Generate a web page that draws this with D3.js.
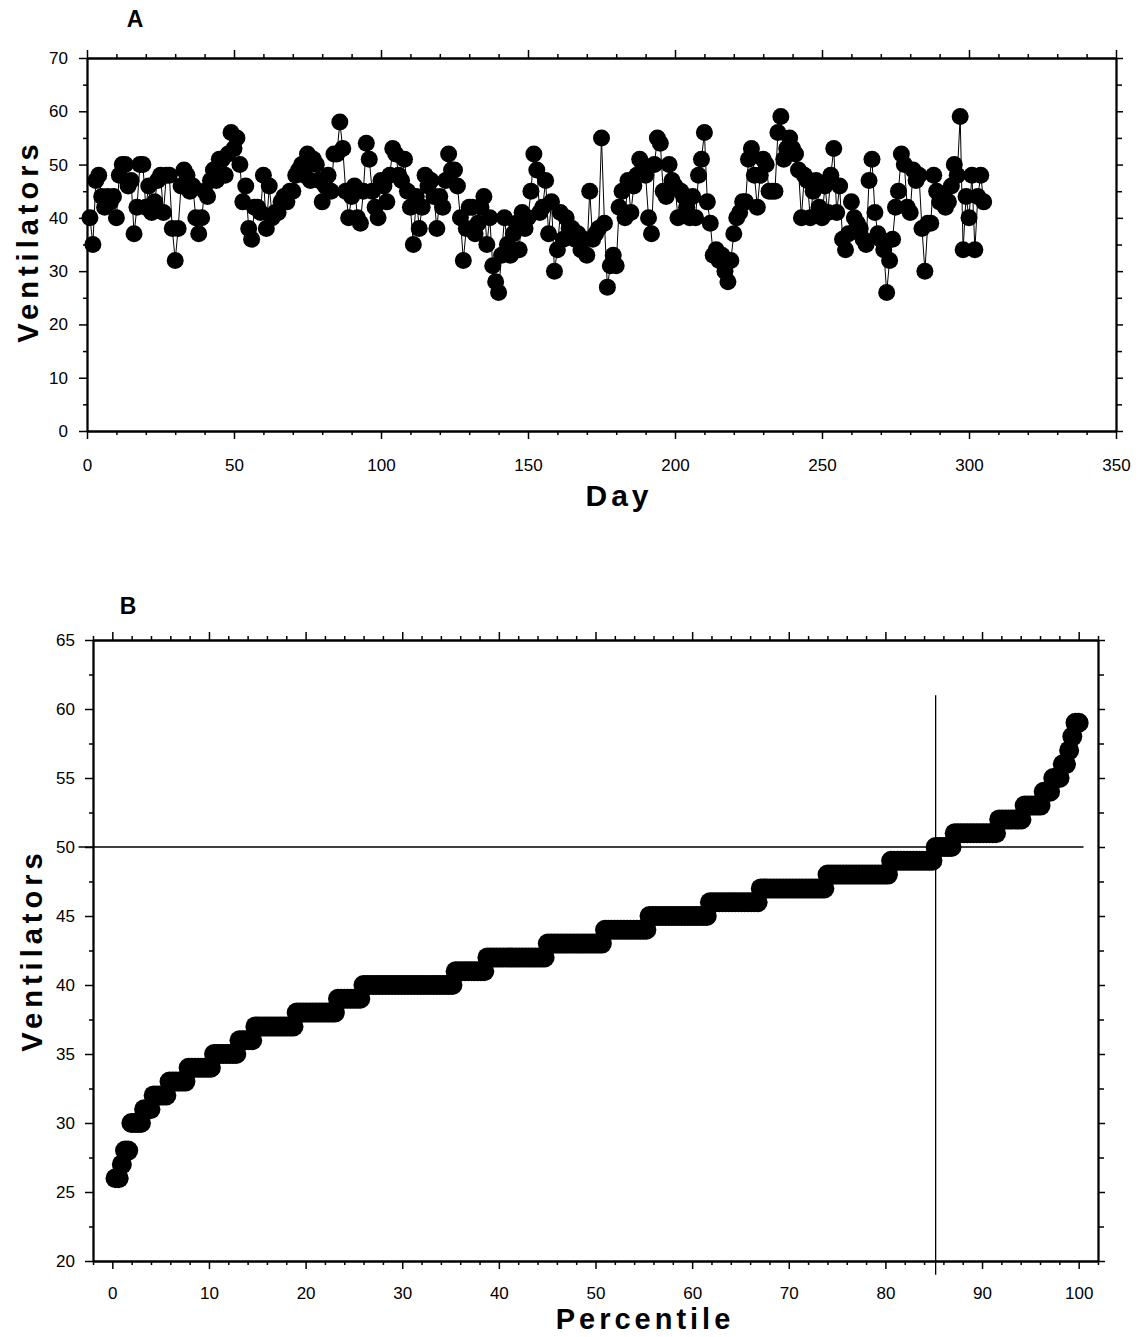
<!DOCTYPE html>
<html>
<head>
<meta charset="utf-8">
<script src="https://cdn.jsdelivr.net/npm/d3@7"></script>
<style>
body { margin: 0; background: #fff; }
text { font-family: "Liberation Sans", Arial, sans-serif; fill: #000; }
</style>
</head>
<body>
<svg id="chart" width="1138" height="1337"></svg>
<script>
// Panel A - daily ventilator census, days 1..305
const dayValues = [
    40, 35, 47, 48, 44, 42, 44, 43, 44, 40,
    48, 50, 50, 46, 47, 37, 42, 50, 50, 42,
    46, 41, 43, 47, 48, 41, 48, 48, 38, 32,
    38, 46, 49, 48, 45, 46, 40, 37, 40, 45,
    44, 47, 49, 47, 51, 51, 48, 52, 56, 53,
    55, 50, 43, 46, 38, 36, 42, 42, 41, 48,
    38, 46, 40, 41, 41, 43, 44, 43, 45, 45,
    48, 49, 50, 48, 52, 47, 51, 50, 47, 43,
    46, 48, 45, 52, 52, 58, 53, 45, 40, 44,
    46, 40, 39, 45, 54, 51, 45, 42, 40, 47,
    46, 43, 48, 53, 52, 48, 47, 51, 45, 42,
    35, 44, 38, 42, 48, 46, 47, 44, 38, 44,
    42, 47, 52, 49, 49, 46, 40, 32, 38, 42,
    42, 37, 39, 42, 44, 35, 40, 31, 28, 26,
    33, 40, 35, 33, 37, 39, 34, 41, 38, 40,
    45, 52, 49, 41, 42, 47, 37, 43, 30, 34,
    41, 36, 40, 38, 38, 36, 37, 34, 36, 33,
    45, 36, 37, 38, 55, 39, 27, 31, 33, 31,
    42, 45, 40, 47, 41, 46, 48, 51, 50, 48,
    40, 37, 50, 55, 54, 45, 44, 50, 47, 46,
    40, 45, 44, 42, 40, 44, 40, 48, 51, 56,
    43, 39, 33, 34, 32, 33, 30, 28, 32, 37,
    40, 41, 43, 43, 51, 53, 48, 42, 48, 51,
    50, 45, 45, 45, 56, 59, 51, 53, 55, 53,
    52, 49, 40, 48, 47, 40, 45, 47, 42, 40,
    46, 41, 48, 53, 41, 46, 36, 34, 37, 43,
    40, 39, 38, 36, 35, 47, 51, 41, 37, 36,
    34, 26, 32, 36, 42, 45, 52, 50, 42, 41,
    49, 47, 48, 38, 30, 39, 39, 48, 45, 43,
    44, 42, 43, 46, 50, 48, 59, 34, 44, 40,
    48, 34, 44, 48, 43
];
const dayTicks = [0, 50, 100, 150, 200, 250, 300, 350];
const ventATicks = [0, 10, 20, 30, 40, 50, 60, 70];

// Panel B - ventilator levels and number of days at each level
const pctLevels = [26, 27, 28, 30, 31, 32, 33, 34, 35, 36, 37, 38, 39, 40, 41, 42, 43,
    44, 45, 46, 47, 48, 49, 50, 51, 52, 53, 54, 55, 56, 57, 58, 59];
const pctCounts = [2, 1, 2, 4, 3, 5, 6, 8, 8, 5, 13, 13, 8, 29, 10, 19, 18,
    14, 19, 16, 21, 20, 14, 6, 14, 8, 6, 3, 3, 2, 1, 1, 2];
const pctTicks = [0, 10, 20, 30, 40, 50, 60, 70, 80, 90, 100];
const ventBTicks = [20, 25, 30, 35, 40, 45, 50, 55, 60, 65];
const refLevel = 50;       // horizontal reference line
const refPercentile = 85.2; // vertical reference line

const svg = d3.select('#chart');

// axes helper: draws one axis, optional labels
function axis(g, fn, scale, ticks, size, labels, transform, pad, fs) {
    const a = g.append('g')
        .attr('transform', transform)
        .call(fn(scale).tickValues(ticks).tickSize(size).tickSizeOuter(0)
            .tickPadding(pad).tickFormat(labels ? d3.format('d') : ''));
    a.select('.domain').attr('stroke', '#000').attr('stroke-width', 1.8);
    a.selectAll('.tick line').attr('stroke', '#000').attr('stroke-width', 1.5);
    a.selectAll('text').style('font-size', fs + 'px').attr('fill', '#000');
    return a;
}

function frame(g, x, y, o) {
    const [x0, x1] = x.range();
    const [y0, y1] = y.range();
    // bottom
    axis(g, d3.axisBottom, x, o.xMajor, 8, true, `translate(0,${y0})`, o.xPad, 17);
    axis(g, d3.axisBottom, x, o.xMinor, 4, false, `translate(0,${y0})`, 0, 0);
    // top
    axis(g, d3.axisTop, x, o.xMajor, 8, false, `translate(0,${y1})`, 0, 0);
    axis(g, d3.axisTop, x, o.xMinor, 4, false, `translate(0,${y1})`, 0, 0);
    // left
    axis(g, d3.axisLeft, y, o.yMajor, 8, true, `translate(${x0},0)`, o.yPad, 17);
    axis(g, d3.axisLeft, y, o.yMinor, 4, false, `translate(${x0},0)`, 0, 0);
    // right
    axis(g, d3.axisRight, y, o.yMajor, 7, false, `translate(${x1},0)`, 0, 0);
    axis(g, d3.axisRight, y, o.yMinor, 6, false, `translate(${x1},0)`, 0, 0);
}

// ---------- Panel A ----------
const xA = d3.scaleLinear().domain([0, 350]).range([87, 1116]);
const yA = d3.scaleLinear().domain([0, 70]).range([431, 58]);
const gA = svg.append('g');

frame(gA, xA, yA, {
    xMajor: dayTicks,
    xMinor: d3.range(0, 351, 10).filter(d => d % 50 !== 0),
    yMajor: ventATicks,
    yMinor: d3.range(5, 70, 10),
    xPad: 20, yPad: 11
});

const seriesA = dayValues.map((v, i) => ({ day: i + 1, v: v }));

gA.append('path')
    .datum(seriesA)
    .attr('fill', 'none')
    .attr('stroke', '#000')
    .attr('stroke-width', 1)
    .attr('d', d3.line().x(d => xA(d.day)).y(d => yA(d.v)));

gA.append('g')
    .selectAll('circle')
    .data(seriesA)
    .enter()
    .append('circle')
    .attr('cx', d => xA(d.day))
    .attr('cy', d => yA(d.v))
    .attr('r', 8.5)
    .attr('fill', '#000');

gA.append('text').attr('x', 135).attr('y', 27).attr('text-anchor', 'middle')
    .style('font-size', '23px').style('font-weight', 'bold').text('A');
gA.append('text').attr('x', 619).attr('y', 506).attr('text-anchor', 'middle')
    .style('font-size', '30px').style('font-weight', 'bold').style('letter-spacing', '4px')
    .text('Day');
gA.append('text').attr('transform', 'translate(38,241) rotate(-90)').attr('text-anchor', 'middle')
    .style('font-size', '29px').style('font-weight', 'bold').style('letter-spacing', '5px')
    .text('Ventilators');

// ---------- Panel B ----------
const xB = d3.scaleLinear().domain([-2, 102]).range([93, 1098]);
const yB = d3.scaleLinear().domain([20, 65]).range([1261, 640]);
const gB = svg.append('g');

frame(gB, xB, yB, {
    xMajor: pctTicks,
    xMinor: d3.range(-2, 103, 2).filter(d => d % 10 !== 0),
    yMajor: ventBTicks,
    yMinor: d3.range(22.5, 65, 5),
    xPad: 18, yPad: 10
});

const sortedB = [];
pctLevels.forEach((v, k) => {
    for (let j = 0; j < pctCounts[k]; j++) sortedB.push(v);
});
const nB = sortedB.length;
const seriesB = sortedB.map((v, i) => ({ p: (i + 1) / nB * 100, v: v }));

// reference lines
gB.append('line')
    .attr('x1', xB(-3.5)).attr('x2', xB(100.5))
    .attr('y1', yB(refLevel)).attr('y2', yB(refLevel))
    .attr('stroke', '#000').attr('stroke-width', 1.3);
gB.append('line')
    .attr('x1', xB(refPercentile)).attr('x2', xB(refPercentile))
    .attr('y1', yB(61)).attr('y2', yB(19))
    .attr('stroke', '#000').attr('stroke-width', 1.3);

gB.append('g')
    .selectAll('circle')
    .data(seriesB)
    .enter()
    .append('circle')
    .attr('cx', d => xB(d.p))
    .attr('cy', d => yB(d.v))
    .attr('r', 10)
    .attr('fill', '#000');

gB.append('text').attr('x', 128).attr('y', 614).attr('text-anchor', 'middle')
    .style('font-size', '23px').style('font-weight', 'bold').text('B');
gB.append('text').attr('x', 645).attr('y', 1329).attr('text-anchor', 'middle')
    .style('font-size', '29px').style('font-weight', 'bold').style('letter-spacing', '4px')
    .text('Percentile');
gB.append('text').attr('transform', 'translate(42,950) rotate(-90)').attr('text-anchor', 'middle')
    .style('font-size', '29px').style('font-weight', 'bold').style('letter-spacing', '5px')
    .text('Ventilators');
</script>
</body>
</html>
